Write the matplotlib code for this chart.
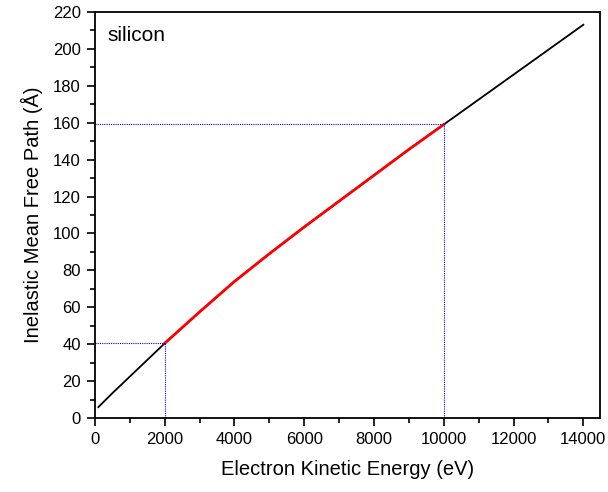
import numpy as np
import matplotlib

matplotlib.use("Agg")
import matplotlib.pyplot as plt
from matplotlib.ticker import MultipleLocator

plt.rcParams["font.family"] = ["Liberation Sans", "DejaVu Sans"]

# IMFP curve for silicon
energy = [100, 500, 1000, 1500, 2000, 3000, 4000, 5000, 6000, 7000, 8000,
          9000, 10000, 11000, 12000, 13000, 14000]
imfp = [6.0, 13.5, 22.5, 31.5, 40.5, 57.5, 74.0, 89.0, 103.5, 117.5, 131.5,
        145.5, 159.0, 172.5, 186.0, 199.5, 213.0]

# highlighted range
e_lo, e_hi = 2000, 10000

energy = np.array(energy)
imfp = np.array(imfp)

fig = plt.figure(figsize=(6.08, 4.92), dpi=100)
ax = fig.add_axes([0.156, 0.150, 0.831, 0.826])

ax.plot(energy, imfp, color="black", lw=1.3)
sel = (energy >= e_lo) & (energy <= e_hi)
ax.plot(energy[sel], imfp[sel], color="red", lw=2.0)

y_lo = np.interp(e_lo, energy, imfp)
y_hi = np.interp(e_hi, energy, imfp)
for e, y in [(e_lo, y_lo), (e_hi, y_hi)]:
    ax.plot([0, e], [y, y], color="blue", lw=0.8, ls=(0, (1, 1)))
    ax.plot([e, e], [0, y], color="blue", lw=0.8, ls=(0, (1, 1)))

ax.text(370, 207, "silicon", fontsize=15, va="center", ha="left")

ax.set_xlim(0, 14480)
ax.set_ylim(0, 220)
ax.xaxis.set_major_locator(MultipleLocator(2000))
ax.xaxis.set_minor_locator(MultipleLocator(1000))
ax.yaxis.set_major_locator(MultipleLocator(20))
ax.yaxis.set_minor_locator(MultipleLocator(10))
ax.tick_params(which="both", direction="out", top=False, right=False, width=1.2)
ax.tick_params(which="major", length=6, labelsize=12, pad=4)
ax.tick_params(which="minor", length=3.5)
for sp in ax.spines.values():
    sp.set_linewidth(1.3)

ax.set_xlabel("Electron Kinetic Energy (eV)", fontsize=14.5, labelpad=9)
ax.set_ylabel("Inelastic Mean Free Path (Å)", fontsize=14.5, labelpad=7)

fig.savefig("out.png", dpi=100)
